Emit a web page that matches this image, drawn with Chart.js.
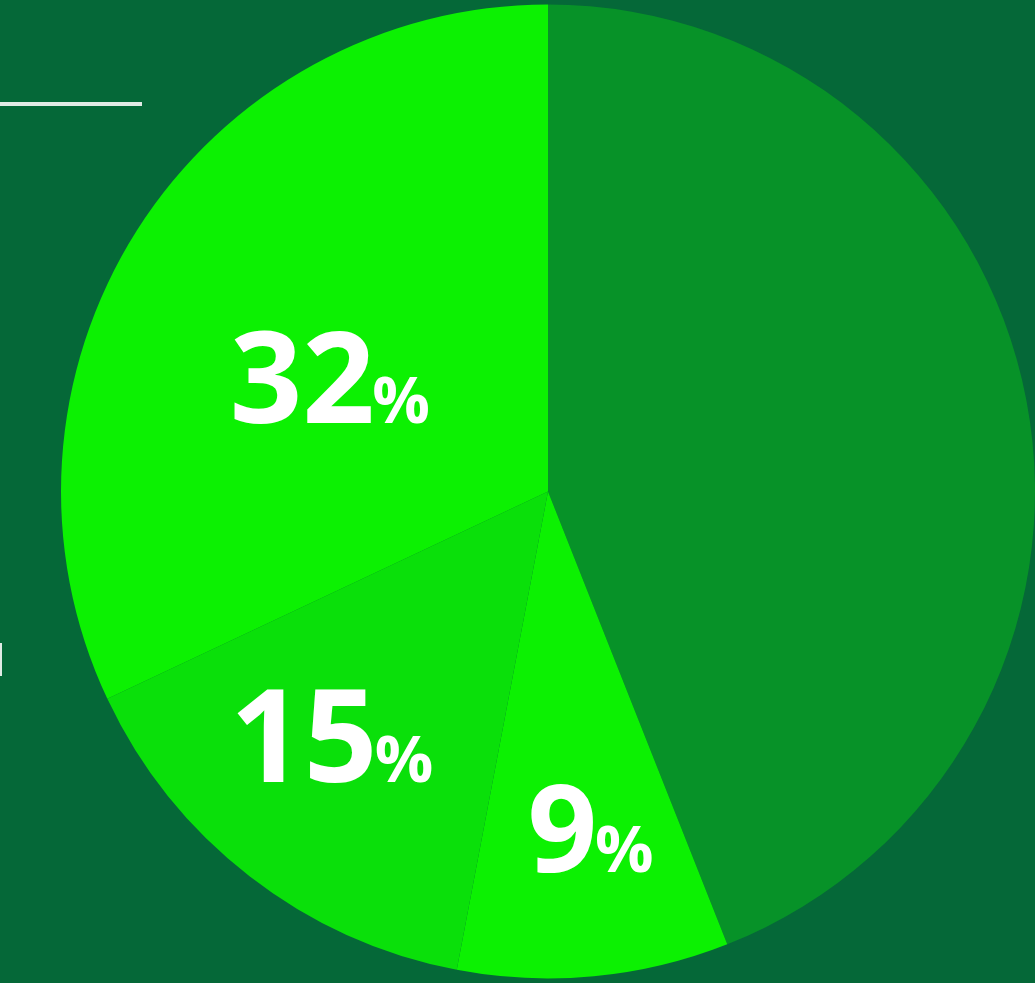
<!DOCTYPE html>
<html>
<head>
<meta charset="utf-8">
<script src="https://cdn.jsdelivr.net/npm/chart.js@4/dist/chart.umd.min.js"></script>
<style>
	html, body {
		margin: 0;
		padding: 0;
		background: #056838;
		overflow: hidden;
	}
	#wrap {
		position: relative;
		width: 1035px;
		height: 983px;
	}
	.rule {
		position: absolute;
		left: 0;
		top: 102px;
		width: 142px;
		height: 4px;
		background: #e1ebe5;
	}
	.tick {
		position: absolute;
		left: 0;
		top: 643px;
		width: 2px;
		height: 33px;
		background: #e1ebe5;
	}
</style>
</head>
<body>
<div id="wrap">
	<canvas id="pie" width="1035" height="983"></canvas>
	<div class="rule"></div>
	<div class="tick"></div>
</div>
<script>
const categories = ["Share A", "Share B", "Share C", "Share D"];
const shares = [44, 9, 15, 32];
const shownLabels = [null, "9", "15", "32"];

// Big number + small "%" drawn on each slice
const percentLabels = {
	id: "percentLabels",
	afterDatasetsDraw(chart, args, opts) {
		const ctx = chart.ctx;
		const meta = chart.getDatasetMeta(0);
		meta.data.forEach(function(arc, i) {
			const text = shownLabels[i];
			if (!text) return;
			const p = arc.getProps(["x", "y", "startAngle", "endAngle", "outerRadius"], true);
			const mid = (p.startAngle + p.endAngle) / 2 + opts.shift[i] * Math.PI / 180;
			const r = p.outerRadius * opts.radius[i];
			const cx = p.x + Math.cos(mid) * r;
			const cy = p.y + Math.sin(mid) * r;
			const big = opts.size[i];
			const small = Math.round(big * opts.pct[i]);
			ctx.save();
			ctx.fillStyle = "#ffffff";
			ctx.textBaseline = "alphabetic";
			ctx.textAlign = "left";
			ctx.font = "bold " + big + "px 'Open Sans'";
			const w1 = ctx.measureText(text).width;
			ctx.font = "bold " + small + "px 'Open Sans'";
			const w2 = ctx.measureText("%").width;
			const left = cx - (w1 + w2) / 2;
			const base = cy + big * 0.357;
			ctx.font = "bold " + big + "px 'Open Sans'";
			ctx.fillText(text, left, base);
			ctx.font = "bold " + small + "px 'Open Sans'";
			ctx.fillText("%", left + w1 - big * 0.02, base);
			ctx.restore();
		});
	}
};

new Chart(document.getElementById("pie"), {
	type: "pie",
	data: {
		labels: categories,
		datasets: [{
			data: shares,
			backgroundColor: ["#079228", "#0cf102", "#0ae00a", "#0cf102"],
			borderWidth: 0
		}]
	},
	options: {
		responsive: false,
		animation: false,
		layout: {
			padding: { left: 61 }
		},
		plugins: {
			legend: { display: false },
			tooltip: { enabled: false },
			percentLabels: {
				radius: [0, 0.698, 0.669, 0.503],
				shift: [0, -2, 3.5, -4.7],
				size: [0, 122, 129, 127],
				pct: [0, 0.53, 0.5, 0.5]
			}
		}
	},
	plugins: [percentLabels]
});
</script>
</body>
</html>
